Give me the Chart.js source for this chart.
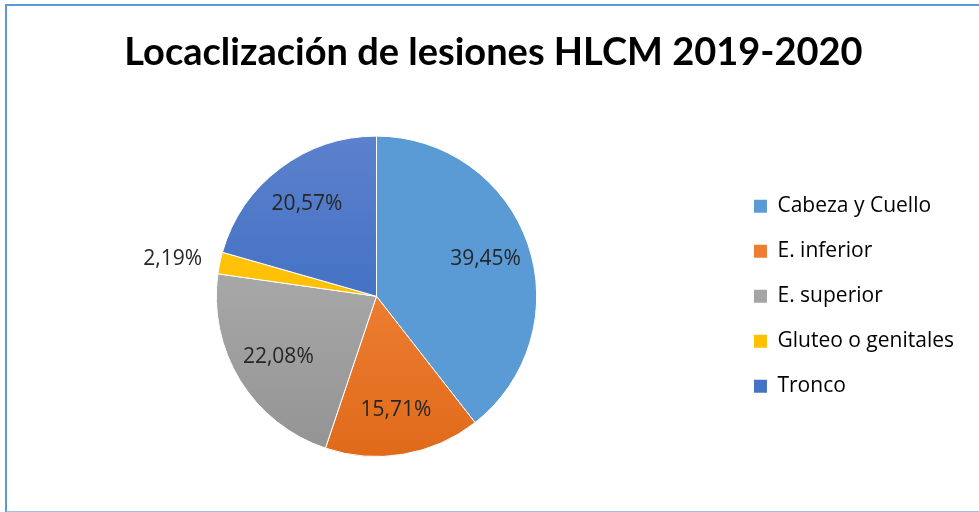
<!DOCTYPE html>
<html>
<head>
<meta charset="utf-8">
<script src="https://cdn.jsdelivr.net/npm/chart.js@4.4.1/dist/chart.umd.min.js"></script>
<style>
  html, body { margin: 0; padding: 0; background: #fff; }
  #wrap { position: relative; width: 979px; height: 512px; overflow: hidden; }
  #frame {
    position: absolute; left: 5px; top: 4px; width: 1000px; height: 505px;
    border-top: 2px solid #5b9bd5; border-left: 2px solid #5b9bd5;
    border-bottom: 2px solid #9dc3e6;
  }
  canvas { position: absolute; left: 0; top: 0; }
</style>
</head>
<body>
<div id="wrap">
  <div id="frame"></div>
  <canvas id="chart" width="979" height="512"></canvas>
</div>
<script>
// datos
const titulo = "Locaclización de lesiones HLCM 2019-2020";
const categorias = ["Cabeza y Cuello", "E. inferior", "E. superior", "Gluteo o genitales", "Tronco"];
const porcentajes = [39.45, 15.71, 22.08, 2.19, 20.57];
// colores: claro arriba, base, oscuro abajo
const coloresArriba = ["#72aadd", "#f18d4e", "#b3b3b3", "#ffca2c", "#5c81cd"];
const coloresBase = ["#5b9bd5", "#ed7d31", "#a5a5a5", "#ffc000", "#4472c4"];
const coloresAbajo = ["#4686c4", "#e06a1a", "#939393", "#f2b800", "#3361bd"];

const fuenteTitulo = "Lato, 'Open Sans', sans-serif";
const fuente = "'Open Sans', Lato, sans-serif";

function gradiente(ctx, i) {
  const chart = ctx.chart;
  const meta = chart.getDatasetMeta(0);
  const arc = meta.data[0];
  if (!arc || !arc.outerRadius) return coloresBase[i];
  const cy = arc.y, r = arc.outerRadius;
  const g = chart.ctx.createLinearGradient(0, cy - r, 0, cy + r);
  g.addColorStop(0, coloresArriba[i]);
  g.addColorStop(0.5, coloresBase[i]);
  g.addColorStop(1, coloresAbajo[i]);
  return g;
}

// etiquetas de porcentaje dentro de cada sector (fuera si es muy chico)
const etiquetasPlugin = {
  id: "etiquetas",
  afterDatasetsDraw(c) {
    const meta = c.getDatasetMeta(0);
    const ctx = c.ctx;
    ctx.save();
    ctx.font = "21px " + fuente;
    ctx.fillStyle = "#262626";
    ctx.textBaseline = "middle";
    meta.data.forEach((arc, i) => {
      const mid = (arc.startAngle + arc.endAngle) / 2;
      const v = porcentajes[i];
      const txt = v.toFixed(2).replace(".", ",") + "%";
      let r, align;
      if (v < 5) {
        r = arc.outerRadius + 18;
        align = "right";
      } else {
        r = arc.outerRadius * 0.72;
        align = "center";
      }
      ctx.textAlign = align;
      ctx.fillText(txt, arc.x + Math.cos(mid) * r, arc.y + Math.sin(mid) * r);
    });
    ctx.restore();
  },
};

new Chart(document.getElementById("chart").getContext("2d"), {
  type: "pie",
  data: {
    labels: categorias,
    datasets: [{
      data: porcentajes,
      backgroundColor: (ctx) => gradiente(ctx, ctx.dataIndex),
      borderColor: "#ffffff",
      borderWidth: 1,
      hoverOffset: 0,
    }],
  },
  options: {
    responsive: false,
    animation: false,
    layout: { padding: { left: 23, right: 15, top: 0, bottom: 55 } },
    plugins: {
      title: {
        display: true,
        text: titulo,
        color: "#000000",
        font: { family: fuenteTitulo, size: 38, weight: "bold" },
        padding: { top: 30, bottom: 60 },
      },
      legend: {
        position: "right",
        fullSize: false,
        labels: {
          boxWidth: 13,
          boxHeight: 13,
          padding: 24,
          color: "#262626",
          font: { family: fuente, size: 21 },
          generateLabels: (c) => categorias.map((t, i) => ({
            text: t,
            fillStyle: coloresBase[i],
            strokeStyle: coloresBase[i],
            lineWidth: 0,
            index: i,
          })),
        },
      },
      tooltip: { enabled: false },
    },
  },
  plugins: [etiquetasPlugin],
});
</script>
</body>
</html>
